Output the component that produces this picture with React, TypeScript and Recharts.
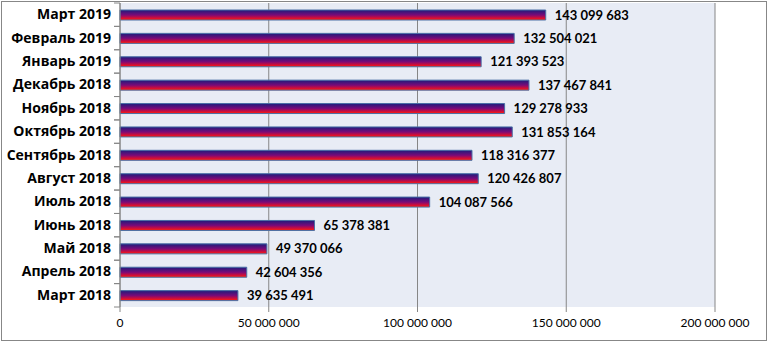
import { BarChart, Bar, XAxis, YAxis, CartesianGrid, LabelList } from 'recharts';

const months = [
  'Март 2019',
  'Февраль 2019',
  'Январь 2019',
  'Декабрь 2018',
  'Ноябрь 2018',
  'Октябрь 2018',
  'Сентябрь 2018',
  'Август 2018',
  'Июль 2018',
  'Июнь 2018',
  'Май 2018',
  'Апрель 2018',
  'Март 2018',
];

const amounts = [
  143099683, 132504021, 121393523, 137467841, 129278933, 131853164, 118316377,
  120426807, 104087566, 65378381, 49370066, 42604356, 39635491,
];

const xTicks = [0, 50000000, 100000000, 150000000, 200000000];

const data = months.map((month, i) => ({ month, value: amounts[i] }));

const fmt = (v: number) => String(v).replace(/\B(?=(\d{3})+(?!\d))/g, ' ');

const FONT = 'Lato, "Open Sans", sans-serif';
const HALF_BAND = 304 / months.length / 2;

function MonthTick(props: any) {
  const { x, y, payload } = props;
  return (
    <g>
      <line x1={x + 2} x2={x + 8} y1={y - HALF_BAND} y2={y - HALF_BAND} stroke="#868686" />
      <line x1={x + 2} x2={x + 8} y1={y + HALF_BAND} y2={y + HALF_BAND} stroke="#868686" />
      <text
        x={x - 1}
        y={y}
        dy={4.5}
        textAnchor="end"
        fontFamily='"Open Sans", sans-serif'
        fontWeight={700}
        fontSize={14}
        fill="#000"
      >
        {payload.value}
      </text>
    </g>
  );
}

export default function App() {
  return (
    <div style={{ position: 'absolute', left: 0, top: 0, width: 769, height: 343, background: '#fff' }}>
      <div
        style={{
          position: 'absolute',
          left: 1,
          top: 1,
          width: 764,
          height: 338,
          border: '1.5px solid #878787',
        }}
      />
      <div style={{ position: 'absolute', left: 0, top: 0 }}>
        <BarChart
          width={769}
          height={343}
          data={data}
          layout="vertical"
          margin={{ top: 3, right: 54, left: 0, bottom: 0 }}
        >
          <defs>
            <linearGradient id="barFill" x1="0" y1="0" x2="0" y2="1">
              <stop offset="0%" stopColor="#1c1c7c" />
              <stop offset="50%" stopColor="#7a0a78" />
              <stop offset="85%" stopColor="#e0102c" />
              <stop offset="100%" stopColor="#ff2a00" />
            </linearGradient>
          </defs>
          <CartesianGrid
            horizontal={false}
            stroke="#868686"
            fill="#e8ecf5"
            fillOpacity={1}
          />
          <XAxis
            type="number"
            domain={[0, 200000000]}
            ticks={xTicks}
            tickFormatter={fmt}
            height={36}
            axisLine={false}
            tickLine={{ stroke: '#868686' }}
            tickSize={5}
            tickMargin={6}
            tick={{ fontFamily: FONT, fontSize: 12, fill: '#000' }}
            interval={0}
          />
          <YAxis
            type="category"
            dataKey="month"
            width={120}
            axisLine={{ stroke: '#868686' }}
            tickLine={false}
            tick={<MonthTick />}
            interval={0}
          />
          <Bar
            dataKey="value"
            fill="url(#barFill)"
            stroke="#4a6fa5"
            strokeWidth={1}
            barSize={10}
            isAnimationActive={false}
          >
            <LabelList
              dataKey="value"
              position="right"
              offset={9}
              formatter={(v: any) => fmt(Number(v))}
              style={{ fontFamily: FONT, fontWeight: 700, fontSize: 13, fill: '#000' }}
            />
          </Bar>
        </BarChart>
      </div>
    </div>
  );
}
